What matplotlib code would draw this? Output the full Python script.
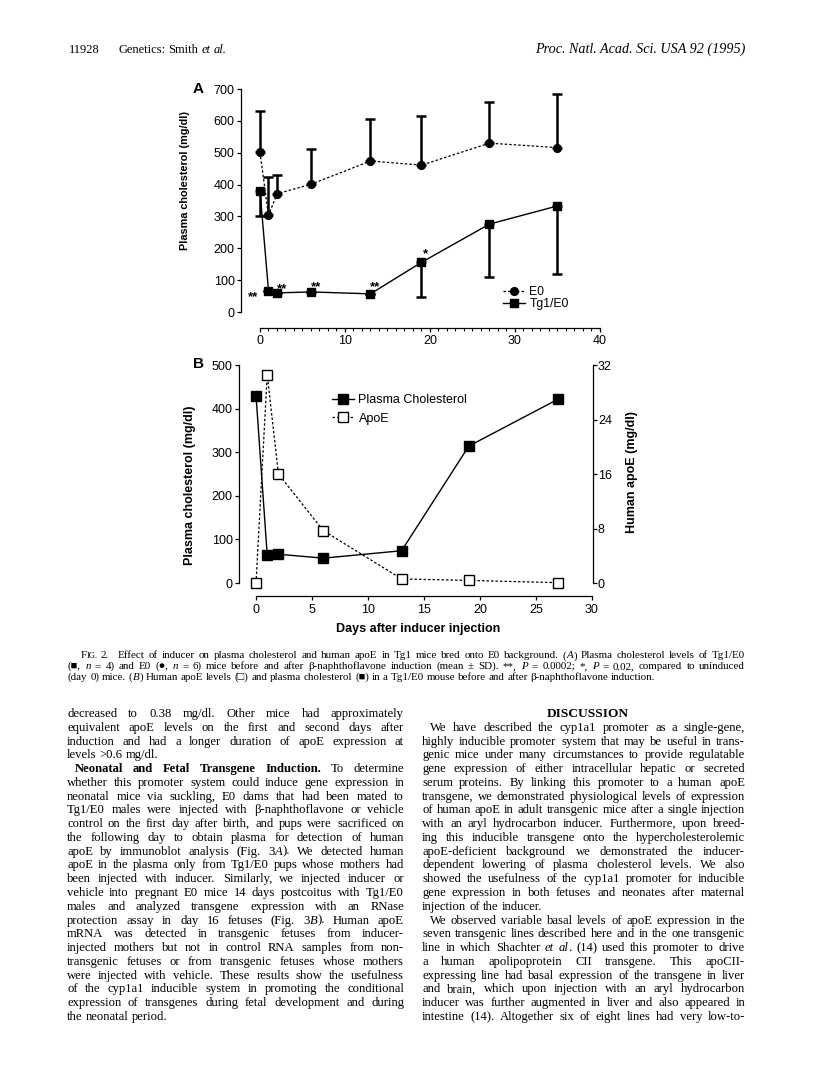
import re
import matplotlib
matplotlib.use('Agg')
import matplotlib.pyplot as plt
from matplotlib.lines import Line2D

# ---------------- data ----------------
days_a = [0, 1, 2, 6, 13, 19, 27, 35]
e0_mean = [501, 303, 371, 401, 474, 461, 530, 516]
e0_sd = [131, 122, 59, 112, 131, 154, 129, 168]
tg_mean = [380, 67, 60, 63, 57, 156, 276, 333]
tg_sd = [78, 0, 0, 0, 0, 110, 165, 214]
star_idx = [1, 2, 3, 4, 5]
star_txt = ['**', '**', '**', '**', '*']

days_b = [0, 1, 2, 6, 13, 19, 27]
chol_b = [430, 64, 66, 57, 74, 314, 422]
apoe_b = [0.0, 30.6, 16.0, 7.7, 0.6, 0.38, 0.05]

xticks_a = [0, 10, 20, 30, 40]
yticks_a = [0, 100, 200, 300, 400, 500, 600, 700]
xticks_b = [0, 5, 10, 15, 20, 25, 30]
yticks_b = [0, 100, 200, 300, 400, 500]
yticks_b2 = [0, 8, 16, 24, 32]

W, H = 816, 1069
SERIF = ['Liberation Serif', 'DejaVu Serif', 'DejaVu Sans']
SANS = ['Liberation Sans', 'DejaVu Sans']
plt.rcParams['font.family'] = SANS

fig = plt.figure(figsize=(W / 100, H / 100), dpi=100)
renderer = fig.canvas.get_renderer()


def fx(x):
    return x / W


def fy(y):
    return 1 - y / H


def rect(x0, y0, x1, y1):
    return [fx(x0), fy(y1), (x1 - x0) / W, (y1 - y0) / H]


# ---------------- Panel A ----------------
axA = fig.add_axes(rect(241, 89, 600, 328))
axA.set_xlim(-2.235, 40)
axA.set_ylim(-50.2, 700)
for s in ['top', 'right']:
    axA.spines[s].set_visible(False)
axA.spines['left'].set_bounds(0, 700)
axA.spines['bottom'].set_bounds(0, 40)
for s in ['left', 'bottom']:
    axA.spines[s].set_linewidth(0.9)

axA.plot(days_a, e0_mean, color='k', lw=0.9, linestyle=(0, (2, 1.6)),
         marker='o', ms=5.6, zorder=3)
axA.errorbar(days_a, e0_mean, yerr=[[0] * len(e0_sd), e0_sd], fmt='none',
             ecolor='k', elinewidth=1.8, capsize=3.4, capthick=1.8, zorder=2)
axA.plot(days_a, tg_mean, color='k', lw=1.0, linestyle='-',
         marker='s', ms=5.6, zorder=4)
axA.errorbar(days_a, tg_mean, yerr=[tg_sd, [0] * len(tg_sd)], fmt='none',
             ecolor='k', elinewidth=1.8, capsize=3.4, capthick=1.8, zorder=2)

star_off = [(-15, -9.5), (5, 1.1), (5.5, 1.5), (4.7, 3.5), (4, 5.5)]
for i, t, (ox, oy) in zip(star_idx, star_txt, star_off):
    axA.annotate(t, (days_a[i], tg_mean[i]), xytext=(ox * 0.72, oy * 0.72),
                 textcoords='offset points', ha='center', va='baseline',
                 fontsize=9.5, fontweight='bold')

axA.set_xticks(xticks_a)
axA.set_xticks(range(0, 41, 1), minor=True)
axA.set_yticks(yticks_a)
axA.tick_params(axis='both', which='major', direction='out', length=3,
                width=0.9, labelsize=9, pad=1.5)
axA.tick_params(axis='x', which='minor', direction='out', length=2, width=0.8)
axA.tick_params(axis='x', which='major', pad=2)

axA.legend([Line2D([], [], color='k', lw=0.9, linestyle=(0, (2, 1.6)),
                   marker='o', ms=5.6),
            Line2D([], [], color='k', lw=1.0, marker='s', ms=5.6)],
           ['E0', 'Tg1/E0'], loc='center left',
           bbox_to_anchor=(fx(497), fy(298)),
           bbox_transform=fig.transFigure, frameon=False,
           borderpad=0, handlelength=1.8, handletextpad=0.35,
           labelspacing=0.0, fontsize=8.8)

fig.text(fx(198), fy(89), 'A', ha='center', va='center', fontsize=11,
         fontweight='bold')
fig.text(fx(185), fy(180), 'Plasma cholesterol (mg/dl)', rotation=90,
         ha='center', va='center', fontsize=7.8, fontweight='bold')

# ---------------- Panel B ----------------
axB = fig.add_axes(rect(239, 365, 593, 596))
axB.set_xlim(-1.52, 30.09)
axB.set_ylim(-29.8, 500)
for s in ['top', 'right']:
    axB.spines[s].set_visible(False)
axB.spines['left'].set_bounds(0, 500)
axB.spines['bottom'].set_bounds(0, 30)
for s in ['left', 'bottom']:
    axB.spines[s].set_linewidth(0.9)

axB2 = axB.twinx()
axB2.set_ylim(-29.8 / 500 * 32, 32)
for s in ['top', 'left', 'bottom']:
    axB2.spines[s].set_visible(False)
axB2.spines['right'].set_bounds(0, 32)
axB2.spines['right'].set_linewidth(0.9)

lc, = axB.plot(days_b, chol_b, color='k', lw=1.0, marker='s', ms=6.8,
               zorder=4)
la, = axB2.plot(days_b, apoe_b, color='k', lw=0.9, linestyle=(0, (2, 1.6)),
                marker='s', ms=6.8, mfc='white', mec='k', mew=1.0, zorder=3)

axB.set_xticks(xticks_b)
axB.set_yticks(yticks_b)
axB2.set_yticks(yticks_b2)
axB.tick_params(axis='both', direction='out', length=3, width=0.9,
                labelsize=9, pad=1.5)
axB.tick_params(axis='x', pad=3)
axB2.tick_params(axis='y', direction='out', length=3, width=0.9,
                 labelsize=9, pad=0.5)

axB.legend([lc, la], ['Plasma Cholesterol', 'ApoE'], loc='center left',
           bbox_to_anchor=(fx(326), fy(409.5)), bbox_transform=fig.transFigure,
           frameon=False, borderpad=0, handlelength=1.7, handletextpad=0.4,
           labelspacing=0.5, fontsize=9)

fig.text(fx(198), fy(364), 'B', ha='center', va='center', fontsize=11,
         fontweight='bold')
fig.text(fx(190), fy(485), 'Plasma cholesterol (mg/dl)', rotation=90,
         ha='center', va='center', fontsize=9, fontweight='bold')
fig.text(fx(632), fy(472), 'Human apoE (mg/dl)', rotation=90,
         ha='center', va='center', fontsize=9, fontweight='bold')
fig.text(fx(418), fy(629), 'Days after inducer injection', ha='center',
         va='center', fontsize=9, fontweight='bold')

# ---------------- page text ----------------


def parse(line):
    runs, pos = [], 0
    for m in re.finditer(r'\{([bis]):([^}]*)\}', line):
        if m.start() > pos:
            runs.append((line[pos:m.start()], 'n'))
        runs.append((m.group(2), m.group(1)))
        pos = m.end()
    if pos < len(line):
        runs.append((line[pos:], 'n'))
    words = [[]]
    for text, st in runs:
        parts = text.split(' ')
        for k, p in enumerate(parts):
            if k > 0:
                words.append([])
            if p:
                words[-1].append((p, st))
    return [w for w in words if w]


def style_kw(st, size):
    kw = dict(family=SERIF, size=size)
    if st == 'b':
        kw['weight'] = 'bold'
    elif st == 'i':
        kw['style'] = 'italic'
    elif st == 's':
        kw['size'] = size * 0.78
    return kw


def draw_line(line, x0, x1, ybase, size, justify=True):
    words = parse(line)
    arts, widths = [], []
    for w in words:
        wa, ww = [], 0.0
        for text, st in w:
            t = fig.text(0, fy(ybase), text, va='baseline', ha='left',
                         **style_kw(st, size))
            bw = t.get_window_extent(renderer).width
            wa.append((t, bw))
            ww += bw
        arts.append(wa)
        widths.append(ww)
    if justify and len(words) > 1:
        gap = (x1 - x0 - sum(widths)) / (len(words) - 1)
    else:
        gap = 0.25 * size * 100 / 72
    x = x0
    for wa, ww in zip(arts, widths):
        xx = x
        for t, bw in wa:
            t.set_x(fx(xx))
            xx += bw
        x += ww + gap
    return x - gap


# header
HS = 9.0
draw_line('11928', 69, 0, 53, HS, justify=False)
draw_line('Genetics: Smith {i:et al.}', 118, 0, 53, HS, justify=False)
fig.text(fx(745), fy(53), 'Proc. Natl. Acad. Sci. USA 92 (1995)',
         ha='right', va='baseline', family=SERIF, style='italic', size=10.2)

# caption
CS = 7.9
cap_lines = [
    "(■, {i:n} = 4) and E0 (●, {i:n} = 6) mice before and after β-naphthoflavone induction (mean ± SD). **, {i:P} = 0.0002; *, {i:P} = 0.02, compared to uninduced",
    "(day 0) mice. ({i:B}) Human apoE levels (□) and plasma cholesterol (■) in a Tg1/E0 mouse before and after β-naphthoflavone induction.",
]
end = draw_line('F{s:IG.} 2.', 81, 0, 658.5, CS, justify=False)
draw_line("Effect of inducer on plasma cholesterol and human apoE in Tg1 mice bred onto E0 background. ({i:A}) Plasma cholesterol levels of Tg1/E0",
          end + 9, 745, 658.5, CS)
draw_line(cap_lines[0], 68, 745, 669, CS)
draw_line(cap_lines[1], 68, 745, 679.5, CS, justify=False)

# body text
TS = 9.1
LH = 13.77
Y0 = 717
left_col = [
    ("decreased to 0.38 mg/dl. Other mice had approximately", True, False),
    ("equivalent apoE levels on the first and second days after", True, False),
    ("induction and had a longer duration of apoE expression at", True, False),
    ("levels >0.6 mg/dl.", False, False),
    ("{b:Neonatal and Fetal Transgene Induction.} To determine", True, True),
    ("whether this promoter system could induce gene expression in", True, False),
    ("neonatal mice via suckling, E0 dams that had been mated to", True, False),
    ("Tg1/E0 males were injected with β-naphthoflavone or vehicle", True, False),
    ("control on the first day after birth, and pups were sacrificed on", True, False),
    ("the following day to obtain plasma for detection of human", True, False),
    ("apoE by immunoblot analysis (Fig. 3{i:A}). We detected human", True, False),
    ("apoE in the plasma only from Tg1/E0 pups whose mothers had", True, False),
    ("been injected with inducer. Similarly, we injected inducer or", True, False),
    ("vehicle into pregnant E0 mice 14 days postcoitus with Tg1/E0", True, False),
    ("males and analyzed transgene expression with an RNase", True, False),
    ("protection assay in day 16 fetuses (Fig. 3{i:B}). Human apoE", True, False),
    ("mRNA was detected in transgenic fetuses from inducer-", True, False),
    ("injected mothers but not in control RNA samples from non-", True, False),
    ("transgenic fetuses or from transgenic fetuses whose mothers", True, False),
    ("were injected with vehicle. These results show the usefulness", True, False),
    ("of the cyp1a1 inducible system in promoting the conditional", True, False),
    ("expression of transgenes during fetal development and during", True, False),
    ("the neonatal period.", False, False),
]
right_col = [
    ("We have described the cyp1a1 promoter as a single-gene,", True, True),
    ("highly inducible promoter system that may be useful in trans-", True, False),
    ("genic mice under many circumstances to provide regulatable", True, False),
    ("gene expression of either intracellular hepatic or secreted", True, False),
    ("serum proteins. By linking this promoter to a human apoE", True, False),
    ("transgene, we demonstrated physiological levels of expression", True, False),
    ("of human apoE in adult transgenic mice after a single injection", True, False),
    ("with an aryl hydrocarbon inducer. Furthermore, upon breed-", True, False),
    ("ing this inducible transgene onto the hypercholesterolemic", True, False),
    ("apoE-deficient background we demonstrated the inducer-", True, False),
    ("dependent lowering of plasma cholesterol levels. We also", True, False),
    ("showed the usefulness of the cyp1a1 promoter for inducible", True, False),
    ("gene expression in both fetuses and neonates after maternal", True, False),
    ("injection of the inducer.", False, False),
    ("We observed variable basal levels of apoE expression in the", True, True),
    ("seven transgenic lines described here and in the one transgenic", True, False),
    ("line in which Shachter {i:et al}. (14) used this promoter to drive", True, False),
    ("a human apolipoprotein CII transgene. This apoCII-", True, False),
    ("expressing line had basal expression of the transgene in liver", True, False),
    ("and brain, which upon injection with an aryl hydrocarbon", True, False),
    ("inducer was further augmented in liver and also appeared in", True, False),
    ("intestine (14). Altogether six of eight lines had very low-to-", True, False),
]

LX0, LX1 = 67, 404
RX0, RX1 = 422, 745
IND = 8
for i, (txt, just, indent) in enumerate(left_col):
    draw_line(txt, LX0 + (IND if indent else 0), LX1, Y0 + i * LH, TS, just)
fig.text(fx(588), fy(Y0), 'DISCUSSION', ha='center', va='baseline',
         family=SERIF, weight='bold', size=9.6)
for i, (txt, just, indent) in enumerate(right_col):
    draw_line(txt, RX0 + (IND if indent else 0), RX1, Y0 + (i + 1) * LH, TS,
              just)

fig.savefig('out.png', dpi=100, facecolor='white')
